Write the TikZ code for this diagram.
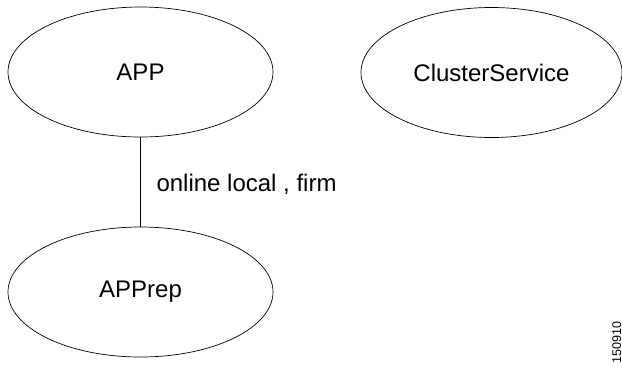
\documentclass[tikz,border=0pt]{standalone}
\usepackage{fontspec}
\setmainfont{Liberation Sans}
\usetikzlibrary{shapes.geometric}

\tikzset{
  res/.style={ellipse,draw,line width=0.35pt,inner sep=0pt,
    minimum width=132.5pt,minimum height=65pt,font=\fontsize{12}{14}\selectfont},
  dep/.style={line width=0.6pt},
  deplabel/.style={inner sep=0pt,outer sep=0pt,font=\fontsize{12}{14}\selectfont}
}

\begin{document}
\begin{tikzpicture}[x=0.5pt,y=-0.5pt]
	\useasboundingbox (0,0) rectangle (622,366);
	% resources
	\node[res] (app) at (140.5,72) {APP};
	\node[res,minimum width=130.5pt] (cluster) at (491.5,72.5) {ClusterService};
	\node[res] (apprep) at (140.5,292) {APPrep};

	% dependency
	\draw[dep] (app) -- node[deplabel,anchor=west,xshift=8pt,pos=0.53] (deplbl) {online local , firm} (apprep);

	\node[inner sep=0pt,rotate=90,anchor=base west,font=\fontsize{6.3}{7}\selectfont] (figid) at (621,364) {150910};
\end{tikzpicture}
\end{document}
